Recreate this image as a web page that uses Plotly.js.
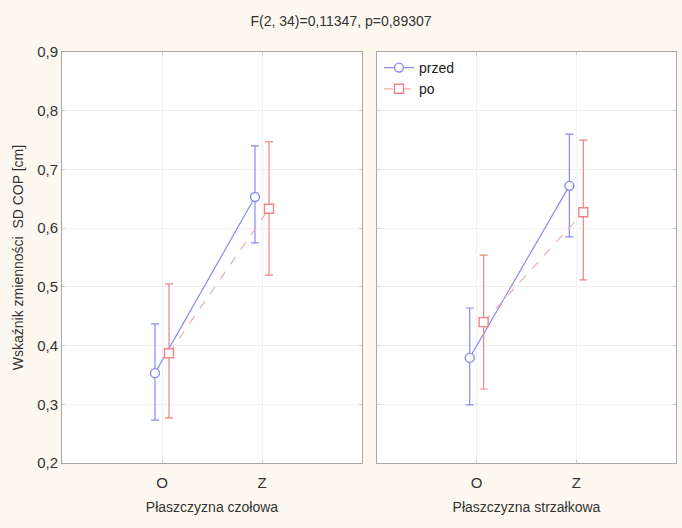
<!DOCTYPE html>
<html>
<head>
<meta charset="utf-8">
<script src="https://cdn.plot.ly/plotly-3.0.1.min.js"></script>
<style>html,body{margin:0;padding:0;background:#fdf9f0;}</style>
</head>
<body>
<div id="chart" style="width:682px;height:528px;"></div>
<script>
// Data
const categories = ['O', 'Z'];
const panelTitles = ['Płaszczyzna czołowa', 'Płaszczyzna strzałkowa'];
const seriesNames = ['przed', 'po'];

// Left panel (czołowa)
const przedCzolowa = [0.353, 0.653];
const przedCzolowaUpper = [0.437, 0.740];
const przedCzolowaLower = [0.273, 0.575];
const poCzolowa = [0.387, 0.633];
const poCzolowaUpper = [0.505, 0.747];
const poCzolowaLower = [0.277, 0.520];

// Right panel (strzałkowa)
const przedStrzalkowa = [0.379, 0.672];
const przedStrzalkowaUpper = [0.464, 0.760];
const przedStrzalkowaLower = [0.299, 0.585];
const poStrzalkowa = [0.440, 0.627];
const poStrzalkowaUpper = [0.554, 0.750];
const poStrzalkowaLower = [0.326, 0.512];

const yTicks = [0.2, 0.3, 0.4, 0.5, 0.6, 0.7, 0.8, 0.9];
const titleText = 'F(2, 34)=0,11347, p=0,89307';
const yTitle = 'Wskaźnik zmienności  SD COP [cm]';

const BLUE = '#8a8af0';
const RED = '#f08484';
const OFFSET = 0.07;
const FONT = 'Liberation Sans, Arial, sans-serif';

function mkTrace(vals, up, lo, name, color, symbol, dash, lineColor, xa, ya, offset, showleg) {
  const xs = categories.map((c, i) => i + offset);
  return {
    x: xs, y: vals, name: name, xaxis: xa, yaxis: ya,
    type: 'scatter', mode: 'lines+markers',
    showlegend: showleg, legendgroup: name,
    line: {color: lineColor, width: 1.2, dash: dash},
    marker: {symbol: symbol, size: 9, color: '#ffffff', line: {color: color, width: 1.4}},
    error_y: {
      type: 'data', symmetric: false,
      array: vals.map((v, i) => up[i] - v),
      arrayminus: vals.map((v, i) => v - lo[i]),
      color: color, thickness: 1.2, width: 4
    }
  };
}

const traces = [
  mkTrace(przedCzolowa, przedCzolowaUpper, przedCzolowaLower, seriesNames[0], BLUE, 'circle', 'solid', BLUE, 'x', 'y', -OFFSET, true),
  mkTrace(poCzolowa, poCzolowaUpper, poCzolowaLower, seriesNames[1], RED, 'square', 'dash', '#e8b0b0', 'x', 'y', OFFSET, true),
  mkTrace(przedStrzalkowa, przedStrzalkowaUpper, przedStrzalkowaLower, seriesNames[0], BLUE, 'circle', 'solid', BLUE, 'x2', 'y2', -OFFSET, false),
  mkTrace(poStrzalkowa, poStrzalkowaUpper, poStrzalkowaLower, seriesNames[1], RED, 'square', 'dash', '#e8b0b0', 'x2', 'y2', OFFSET, false)
];

const xaxisBase = {
  range: [-1, 2],
  tickvals: categories.map((c, i) => i),
  ticktext: categories,
  showgrid: true, gridcolor: '#f0f0f0',
  zeroline: false,
  showline: true, linecolor: '#a8a8a8', linewidth: 1, mirror: 'ticks',
  ticks: 'inside', ticklen: 3, tickcolor: '#cccccc',
  ticklabelstandoff: 6,
  tickfont: {size: 15, color: '#333', family: FONT},
  fixedrange: true
};
const yaxisBase = {
  range: [0.2, 0.9],
  tickvals: yTicks,
  tickformat: '.1f',
  showgrid: true, gridcolor: '#f0f0f0',
  zeroline: false,
  showline: true, linecolor: '#a8a8a8', linewidth: 1, mirror: 'ticks',
  ticks: 'inside', ticklen: 3, tickcolor: '#cccccc',
  tickfont: {size: 15, color: '#333', family: FONT},
  fixedrange: true
};

const layout = {
  width: 682, height: 528,
  paper_bgcolor: '#fdf9f0',
  plot_bgcolor: '#ffffff',
  separators: ', ',
  margin: {l: 62, r: 6, t: 52, b: 65},
  font: {family: FONT, size: 13, color: '#333'},
  title: {text: titleText, font: {size: 14, color: '#333', family: FONT}, x: 0.5, xref: 'container', xanchor: 'center', y: 1 - 21/528, yref: 'container', yanchor: 'middle'},
  xaxis: Object.assign({}, xaxisBase, {domain: [0, 300/614], anchor: 'y',
    title: {text: panelTitles[0], font: {size: 14, color: '#333', family: FONT}, standoff: 12}}),
  xaxis2: Object.assign({}, xaxisBase, {domain: [315/614, 1], anchor: 'y2',
    title: {text: panelTitles[1], font: {size: 14, color: '#333', family: FONT}, standoff: 12}}),
  yaxis: Object.assign({}, yaxisBase, {anchor: 'x',
    title: {text: yTitle, font: {size: 14, color: '#333', family: FONT}, standoff: 10}}),
  yaxis2: Object.assign({}, yaxisBase, {anchor: 'x2', matches: 'y', showticklabels: false}),
  legend: {
    x: 317/614, y: 1, xanchor: 'left', yanchor: 'top',
    bgcolor: 'rgba(0,0,0,0)', borderwidth: 0,
    font: {size: 14, color: '#222', family: FONT},
    tracegroupgap: 0
  },
  showlegend: true
};

Plotly.newPlot('chart', traces, layout, {displayModeBar: false, staticPlot: true});
</script>
</body>
</html>
